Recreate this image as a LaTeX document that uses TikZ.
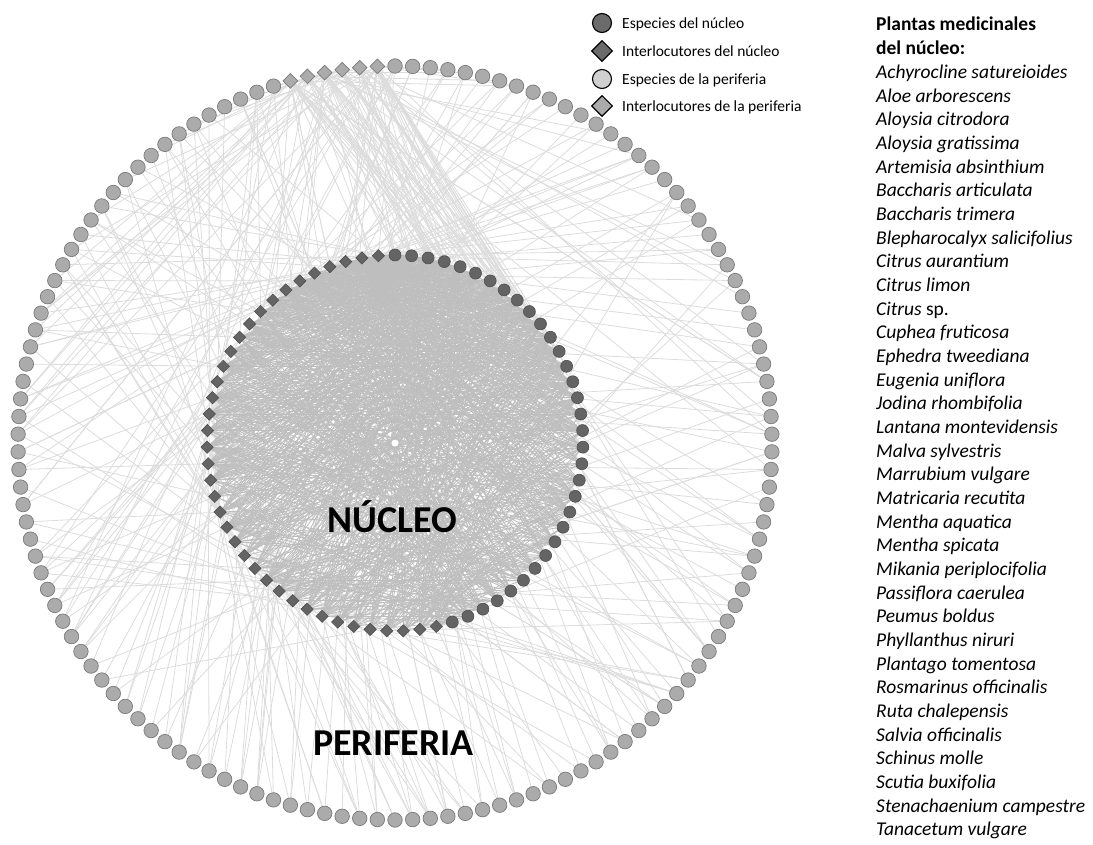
\documentclass[tikz,border=0pt]{standalone}
\usepackage{fontspec}
\setmainfont{Carlito}
\usetikzlibrary{shapes.geometric}
\pgfdeclarelayer{bg}
\pgfsetlayers{bg,main}
\definecolor{coref}{HTML}{646464}
\definecolor{cored}{HTML}{4F4F4F}
\definecolor{perf}{HTML}{ABABAB}
\definecolor{perd}{HTML}{7A7A7A}
\definecolor{inedgec}{HTML}{BEBEBE}
\definecolor{outedgec}{HTML}{DCDCDC}
\definecolor{legcore}{HTML}{6B6B6B}
\definecolor{legper}{HTML}{D0D0D0}
\definecolor{legperd}{HTML}{ABABAB}
\tikzset{
 corespec/.style={circle, fill=coref, draw=cored, line width=0.6pt, minimum size=12pt, inner sep=0pt},
 coreint/.style={diamond, fill=coref, draw=cored, line width=0.6pt, minimum size=12.5pt, inner sep=0pt},
 perspec/.style={circle, fill=perf, draw=perd, line width=0.7pt, minimum size=14.5pt, inner sep=0pt},
 perint/.style={diamond, fill=perf, draw=perd, line width=0.7pt, minimum size=15pt, inner sep=0pt},
 inedge/.style={draw=inedgec, line width=0.8pt},
 outedge/.style={draw=outedgec, line width=0.8pt},
 legsym/.style={draw=black, line width=1.1pt, inner sep=0pt},
 legtext/.style={anchor=base west, font=\fontsize{15.5}{18}\selectfont, inner sep=0pt},
 listtext/.style={anchor=base west, font=\fontsize{19.5}{23.7}\selectfont, inner sep=0pt},
 bigtext/.style={font=\fontsize{38}{40}\selectfont\bfseries, inner sep=0pt, anchor=base},
}
\begin{document}
\begin{tikzpicture}[x=1pt,y=-1pt]
\useasboundingbox (0,0) rectangle (1093,845);
% core ring
\foreach \k in {0,...,70}{
  \pgfmathsetmacro\a{90-\k*5.0704225}
  \ifnum\k<33
    \node[corespec] (i\k) at ({395+188*cos(\a)},{443-188*sin(\a)}) {};
  \else
    \node[coreint] (i\k) at ({395+188*cos(\a)},{443-188*sin(\a)}) {};
  \fi
}
% periphery ring
\foreach \k in {0,...,133}{
  \pgfmathsetmacro\a{90-\k*2.6865672}
  \ifnum\k<128
    \node[perspec] (o\k) at ({395+377*cos(\a)},{443-377*sin(\a)}) {};
  \else
    \node[perint] (o\k) at ({395+377*cos(\a)},{443-377*sin(\a)}) {};
  \fi
}
\begin{pgfonlayer}{bg}
\pgfmathsetseed{11}
% periphery edges
\foreach \k in {0,...,127}{
  \pgfmathrandominteger{\m}{1}{4}
  \foreach \j in {1,...,\m}{
    \pgfmathrnd
    \pgfmathsetmacro\u{\pgfmathresult}
    \ifdim\u pt<0.2pt
      \pgfmathrandominteger{\t}{128}{133}
      \draw[outedge] (o\k) -- (o\t);
    \else
      \pgfmathrnd
      \pgfmathsetmacro\v{\pgfmathresult}
      \pgfmathtruncatemacro\r{min(37,38*\v^1.4)}
      \pgfmathtruncatemacro\di{70-\r}
      \draw[outedge] (o\k) -- (i\di);
    \fi
  }
}
\foreach \t in {128,...,133}{
  \foreach \j in {1,...,10}{
    \pgfmathrnd
    \pgfmathsetmacro\v{\pgfmathresult}
    \pgfmathtruncatemacro\c{min(32,33*\v*\v)}
    \draw[outedge] (o\t) -- (i\c);
  }
}
% core edges
\foreach \d in {0,...,37}{
  \foreach \c in {0,...,32}{
    \pgfmathsetmacro\thr{0.95-0.011*(\d+\c)}
    \pgfmathrnd
    \ifdim\pgfmathresult pt<\thr pt
      \pgfmathtruncatemacro\di{70-\d}
      \draw[inedge] (i\di) -- (i\c);
    \fi
  }
}
\end{pgfonlayer}
% big labels
\node[bigtext] (nuc) at (392.5,532) {NÚCLEO};
\node[bigtext] (per) at (393.5,755) {PERIFERIA};
% legend
\node[legsym, circle, fill=legcore, minimum size=19pt] (lg1) at (602,23) {};
\node[legsym, diamond, fill=legcore, minimum size=21pt] (lg2) at (602,51) {};
\node[legsym, circle, fill=legper, minimum size=19pt] (lg3) at (602,79) {};
\node[legsym, diamond, fill=legperd, minimum size=21pt] (lg4) at (602,106) {};
\node[legtext] (lt1) at (622,29) {Especies del núcleo};
\node[legtext] (lt2) at (622,57) {Interlocutores del núcleo};
\node[legtext] (lt3) at (622,85) {Especies de la periferia};
\node[legtext] (lt4) at (622,112) {Interlocutores de la periferia};
% list
\node[listtext, font=\fontsize{19.5}{23.7}\selectfont\bfseries] (h1) at (876,31) {Plantas medicinales};
\node[listtext, font=\fontsize{19.5}{23.7}\selectfont\bfseries] (h2) at (876,54.67) {del núcleo:};
\foreach \t [count=\i from 2] in {Achyrocline satureioides, Aloe arborescens, Aloysia citrodora, Aloysia gratissima, Artemisia absinthium, Baccharis articulata, Baccharis trimera, Blepharocalyx salicifolius, Citrus aurantium, Citrus limon, {Citrus \textup{sp.}}, Cuphea fruticosa, Ephedra tweediana, Eugenia uniflora, Jodina rhombifolia, Lantana montevidensis, Malva sylvestris, Marrubium vulgare, Matricaria recutita, Mentha aquatica, Mentha spicata, Mikania periplocifolia, Passiflora caerulea, Peumus boldus, Phyllanthus niruri, Plantago tomentosa, Rosmarinus officinalis, Ruta chalepensis, Salvia officinalis, Schinus molle, Scutia buxifolia, Stenachaenium campestre, Tanacetum vulgare}{
  \node[listtext, font=\fontsize{19.5}{23.7}\selectfont\itshape] (pl\i) at (876,{31+23.67*\i}) {\t};
}
\end{tikzpicture}
\end{document}
